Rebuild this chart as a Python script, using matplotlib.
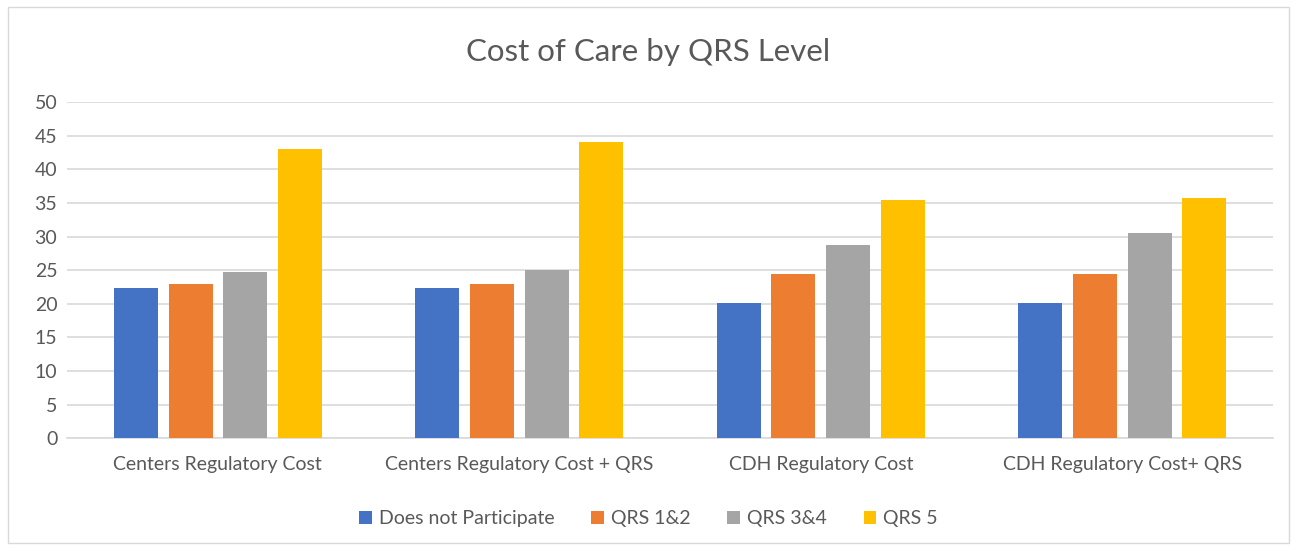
import matplotlib
matplotlib.use('Agg')
import matplotlib.pyplot as plt
from matplotlib.patches import Rectangle
import numpy as np

plt.rcParams['font.family'] = ['Lato', 'DejaVu Sans']

categories = ['Centers Regulatory Cost', 'Centers Regulatory Cost + QRS',
              'CDH Regulatory Cost', 'CDH Regulatory Cost+ QRS']
series_names = ['Does not Participate', 'QRS 1&2', 'QRS 3&4', 'QRS 5']
does_not_participate = [22.3, 22.3, 20.1, 20.1]
qrs_1_2 = [22.9, 22.9, 24.5, 24.5]
qrs_3_4 = [24.8, 25.0, 28.8, 30.6]
qrs_5 = [43.0, 44.0, 35.5, 35.7]
colors = ['#4472C4', '#ED7D31', '#A5A5A5', '#FFC000']

text_color = '#595959'

fig = plt.figure(figsize=(12.97, 5.5), dpi=100)
ax = fig.add_axes([0.0517, 0.203, 0.9298, 0.6115])

# outer chart frame
fig.patches.append(Rectangle((0.006, 0.012), 0.988, 0.976, transform=fig.transFigure,
                             fill=False, edgecolor='#d9d9d9', linewidth=1))

x = np.arange(len(categories))
width = 0.146
step = 0.181
all_series = [does_not_participate, qrs_1_2, qrs_3_4, qrs_5]
for i, (vals, name, c) in enumerate(zip(all_series, series_names, colors)):
    ax.bar(x + (i - 1.5) * step, vals, width, color=c, label=name, zorder=3)

ax.set_xlim(-0.5, 3.5)
ax.set_ylim(0, 50)
ax.set_yticks(range(0, 51, 5))
ax.set_xticks(x)
ax.set_xticklabels(categories)
ax.tick_params(axis='both', length=0, colors=text_color, labelsize=14)
ax.tick_params(axis='x', pad=13)
ax.tick_params(axis='y', pad=7)
ax.grid(axis='y', color='#d9d9d9', linewidth=1.2, zorder=0)
for s in ['top', 'right', 'left']:
    ax.spines[s].set_visible(False)
ax.spines['bottom'].set_color('#d9d9d9')
ax.spines['bottom'].set_linewidth(1.2)

fig.text(0.5, 0.905, 'Cost of Care by QRS Level', ha='center', va='center',
         fontsize=22.5, color=text_color)

fig.legend(loc='center', bbox_to_anchor=(0.5, 0.057), ncol=4, frameon=False,
           fontsize=14, labelcolor=text_color, handlelength=0.65, handleheight=0.65,
           handletextpad=0.35, columnspacing=1.9)

fig.savefig('out.png', dpi=100, facecolor='white')
